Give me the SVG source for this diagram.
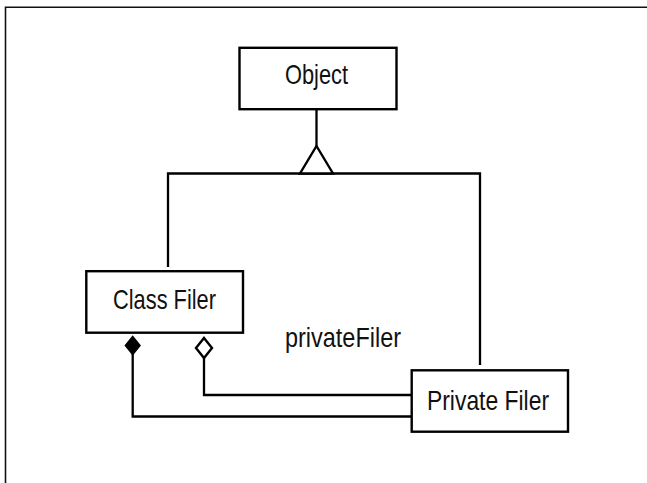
<svg xmlns="http://www.w3.org/2000/svg" width="647" height="483" viewBox="0 0 647 483">
  <style>
    .frame { fill: none; stroke: #111; stroke-width: 1.6; }
    .box { fill: #fff; stroke: #000; stroke-width: 2.4; }
    .line { fill: none; stroke: #000; stroke-width: 2.3; }
    .label { font-family: "Liberation Sans Narrow", "Liberation Sans", "DejaVu Sans Condensed", sans-serif; font-size: 27.5px; fill: #111; }
    .mid { text-anchor: middle; }
    .open { fill: #fff; stroke: #000; stroke-width: 2.4; stroke-linejoin: miter; }
    .solid { fill: #000; stroke: #000; stroke-width: 1.5; }
  </style>

  <!-- page border (top and left edges only) -->
  <path class="frame" d="M5.5,483 V7.3 H647"/>

  <g id="connectors">
    <!-- generalisation: Object <- Class Filer / Private Filer -->
    <path class="line" d="M316.5,109 V146"/>
    <path class="line" d="M168,267 V173.5 H480 V365"/>
    <polygon class="open" points="316.5,146 333,173.5 300,173.5"/>

    <!-- composition: Class Filer owns Private Filer -->
    <path class="line" d="M132.7,354 V416.5 H411.7"/>
    <polygon class="solid" points="132.7,336.5 140,345.5 132.7,354.5 125.4,345.5"/>

    <!-- aggregation: privateFiler reference -->
    <path class="line" d="M204,358 V395 H411.7"/>
    <polygon class="open" points="204,338 212,348 204,358 196,348"/>
    <text class="label" x="285" y="347" textLength="116" lengthAdjust="spacingAndGlyphs">privateFiler</text>
  </g>

  <g id="object">
    <rect class="box" x="239.5" y="47.8" width="157" height="61.4"/>
    <text class="label mid" x="316.5" y="84.3" textLength="63" lengthAdjust="spacingAndGlyphs">Object</text>
  </g>

  <g id="class-filer">
    <rect class="box" x="86.3" y="271.2" width="156.7" height="61.5"/>
    <text class="label mid" x="164.5" y="309.3" textLength="103" lengthAdjust="spacingAndGlyphs">Class Filer</text>
  </g>

  <g id="private-filer">
    <rect class="box" x="411.7" y="370.3" width="156.3" height="61.4"/>
    <text class="label mid" x="488" y="409.5" textLength="122" lengthAdjust="spacingAndGlyphs">Private Filer</text>
  </g>
</svg>
